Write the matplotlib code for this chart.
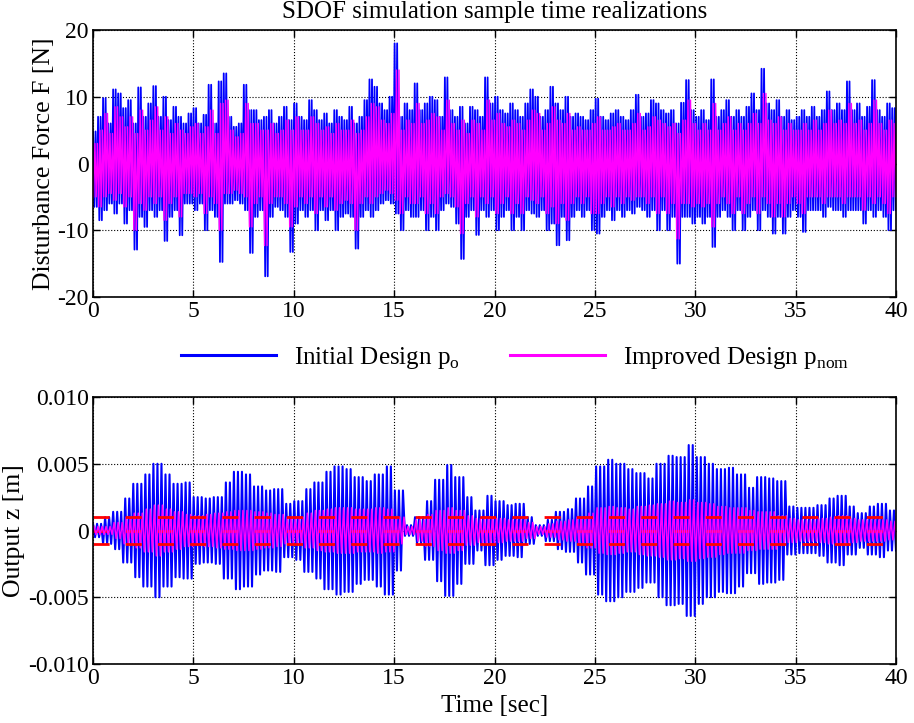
import numpy as np
import matplotlib
matplotlib.use("Agg")
import matplotlib.pyplot as plt

plt.rcParams['font.family'] = ['Liberation Serif', 'DejaVu Serif']
plt.rcParams['mathtext.fontset'] = 'custom'
plt.rcParams['mathtext.rm'] = 'Liberation Serif'
plt.rcParams['axes.unicode_minus'] = False

# ---- disturbance force: local high / low per 0.25 s slot [N] ----
force_init_hi = [4.8, 7, 9.8, 6, 11.1, 10.5, 8.3, 9.5, 6, 11.4, 7, 9, 11.6, 7, 10, 6.5,
                 8.5, 7, 6, 7.5, 8.3, 6, 7.3, 11.8, 6, 12.3, 13.5, 7, 5.5, 6, 11.8, 8,
                 8, 6.5, 7, 8, 6, 7, 8.5, 6.5, 9, 7, 6.5, 9.5, 8, 6.5, 7.5, 6,
                 8, 7, 6.5, 8.5, 6, 7, 9.5, 12.6, 11.5, 9, 8, 10, 18, 7, 9, 8,
                 12, 8, 9, 10, 9.5, 7, 12.9, 8, 7, 8.5, 6, 8.5, 8, 7, 12.9, 9,
                 10, 8, 7.5, 9, 8, 7, 9, 11.1, 10, 7, 8, 11.5, 9, 8, 10, 7,
                 7.5, 7, 6.5, 8, 9.7, 7, 6.5, 7.5, 8, 7, 6.5, 8, 10.3, 7, 7.5, 9.5,
                 9, 8, 7.5, 8, 6, 9.1, 12.5, 8, 7, 8, 6.5, 12.6, 7, 8, 9.5, 7,
                 8, 7, 8.5, 10.5, 8, 14.2, 9, 8, 9.5, 7, 8, 6.5, 7, 8, 7, 8.5,
                 7, 8, 10.8, 8, 9, 8, 12.3, 8, 9, 7, 8.5, 12.5, 8, 7, 9, 8.3]
force_init_lo = [-6.5, -8.5, -7, -6, -7.5, -6, -9, -7, -12.9, -8, -9.5, -7, -8, -7, -11.6, -8,
                 -7, -10.75, -6, -6, -7, -6, -10, -7, -8, -14.75, -6, -6, -5.5, -6, -7, -13.4,
                 -8, -7, -16.9, -8, -6.5, -7, -8, -13.25, -9, -7, -8, -7, -10, -7, -8.5, -7,
                 -10, -8, -7.5, -8, -12.75, -8, -7, -8, -7, -6, -5.5, -6, -7.5, -10, -7, -8,
                 -8, -7, -10, -8, -10, -7, -6, -6.5, -9, -14.3, -8, -7, -10.7, -7, -8, -7,
                 -10, -8, -7, -10, -8, -10, -7, -7.5, -8, -7, -10, -9, -12.25, -8, -11.5, -8,
                 -7, -8, -7, -10, -10.5, -8, -7, -8.5, -7, -8, -7, -7.5, -6.5, -7, -8, -7,
                 -10, -7, -10, -8, -15, -8, -8, -9, -8, -9, -8, -12.5, -8, -7, -8, -10,
                 -7, -10, -8, -7, -10, -7, -8, -10.5, -8, -10.5, -8, -7, -8, -10.25, -7, -7,
                 -7, -8, -6.5, -7, -7, -8, -7, -7, -7, -9, -7, -8, -7, -8, -10, -7]
force_impr_hi = [3, 5, 7.5, 4.5, 8.5, 7, 5.5, 7, 4.5, 8, 5, 6.5, 8.5, 5, 7, 4.5,
                 6, 5, 4.5, 5.5, 6, 4.5, 5.5, 8, 4.5, 9, 9.5, 5, 4, 4.5, 9, 6,
                 6, 5, 5, 6, 4.5, 5, 6.5, 5, 7, 5, 5, 7, 6, 5, 5.5, 4.5,
                 6, 5, 5, 6.5, 4.5, 5, 7, 9, 8.5, 6.5, 6, 7.5, 14, 5, 6.5, 6,
                 9, 6, 6.5, 7.5, 7, 5, 9.5, 6, 5, 6.5, 4.5, 6.5, 6, 5, 9.5, 6.5,
                 7.5, 6, 5.5, 6.5, 6, 5, 6.5, 8, 7.5, 5, 6, 8.5, 6.5, 6, 7.5, 5,
                 5.5, 5, 5, 6, 7, 5, 5, 5.5, 6, 5, 5, 6, 7.5, 5, 5.5, 7,
                 6.5, 6, 5.5, 6, 4.5, 6.5, 9.5, 6, 5, 6, 5, 9, 5, 6, 7, 5,
                 6, 5, 6, 7.5, 6, 10.5, 6.5, 6, 7, 5, 6, 5, 5, 6, 5, 6.5,
                 5, 6, 8, 6, 6.5, 6, 9, 6, 6.5, 5, 6, 9.5, 6, 5, 6.5, 6]
force_impr_lo = [-5, -6.5, -5, -4.5, -5.5, -4.5, -6.5, -5, -10, -6, -7, -5, -6, -5, -8.5, -6,
                 -5, -8, -4.5, -4.5, -5, -4.5, -7.5, -5, -6, -10, -4.5, -4.5, -4, -4.5, -5, -9.5,
                 -6, -5, -12.3, -6, -5, -5, -6, -9.5, -6.5, -5, -6, -5, -7.5, -5, -6.5, -5,
                 -7, -6, -5.5, -6, -10, -6, -5, -6, -5, -4.5, -4, -4.5, -5.5, -7.5, -5, -6,
                 -6, -5, -7.5, -6, -7.5, -5, -4.5, -5, -6.5, -10.5, -6, -5, -8, -5, -6, -5,
                 -7.5, -6, -5, -7.5, -6, -7.5, -5, -5.5, -6, -5, -7.5, -6.5, -9, -6, -8.5, -6,
                 -5, -6, -5, -7.5, -7.5, -6, -5, -6.5, -5, -6, -5, -5.5, -5, -5, -6, -5,
                 -7.5, -5, -7.5, -6, -11.3, -6, -6, -6.5, -6, -6.5, -6, -9.5, -6, -5, -6, -7.5,
                 -5, -7.5, -6, -5, -7.5, -5, -6, -8, -6, -8, -6, -5, -6, -7.5, -5, -5,
                 -5, -6, -5, -5, -5, -6, -5, -5, -5, -7, -5, -6, -5, -6, -7.5, -5]

# ---- output z: oscillation envelope per 0.5 s slot [mm] ----
z_init_env = [0.5, 1.0, 1.4, 2.4, 3.5, 4.2, 5.0, 4.2, 3.5, 3.6,
              2.5, 2.4, 2.5, 3.6, 4.4, 4.2, 3.3, 3.0, 3.1, 2.0,
              2.2, 3.1, 3.6, 4.4, 4.8, 4.6, 4.0, 3.7, 4.2, 4.8,
              3.0, 0.4, 1.0, 2.2, 3.8, 4.9, 4.0, 2.5, 1.5, 2.6,
              2.2, 1.9, 2.0, 1.0, 0.4, 0.8, 1.4, 1.6, 2.4, 3.3,
              4.8, 5.3, 5.0, 4.6, 4.3, 3.9, 5.0, 5.6, 5.5, 6.4,
              5.5, 5.0, 4.6, 4.7, 4.2, 3.2, 4.0, 3.9, 3.7, 1.8,
              1.7, 1.7, 1.9, 2.4, 2.6, 1.8, 1.3, 1.8, 2.0, 1.5]
z_impr_env = [0.3, 0.3, 0.6, 1.0, 1.3, 1.6, 1.9, 1.6, 1.4, 1.2,
              1.1, 1.2, 1.3, 1.4, 1.5, 1.5, 1.4, 1.3, 1.2, 1.0,
              1.0, 1.3, 1.5, 1.6, 1.7, 1.7, 1.6, 1.6, 1.7, 1.6,
              1.0, 0.3, 0.8, 1.2, 1.5, 1.7, 1.5, 1.1, 0.9, 1.0,
              0.9, 0.8, 0.8, 0.6, 0.3, 0.5, 0.7, 0.8, 1.0, 1.3,
              1.7, 1.8, 1.7, 1.6, 1.8, 1.9, 2.0, 2.2, 2.1, 2.3,
              2.1, 2.0, 1.8, 1.7, 1.7, 1.5, 1.4, 1.4, 1.1, 0.9,
              0.8, 0.8, 0.9, 1.0, 1.1, 0.9, 0.8, 0.8, 0.8, 0.7]
z_bound = 0.001

T_END = 40.0


def force_trace(hi, lo, swings=1, lo_first=False):
    a, b = (lo, hi) if lo_first else (hi, lo)
    seq = np.column_stack([a, b] * swings).ravel()
    t = np.linspace(0, T_END, seq.size)
    return t, seq


def z_trace(env_mm, per_slot=5):
    amp = np.repeat(np.asarray(env_mm) * 1e-3, per_slot)
    sign = np.where(np.arange(amp.size) % 2 == 0, 1.0, -1.0)
    t = np.linspace(0, T_END, amp.size)
    return t, amp * sign


fig = plt.figure(figsize=(9.14, 7.23), dpi=100)
ax1 = fig.add_axes([0.1018, 0.5892, 0.8785, 0.3693])
ax2 = fig.add_axes([0.1018, 0.0816, 0.8785, 0.3693])

BLUE, MAG, RED = (0, 0, 1), (1, 0, 1), (1, 0, 0)
DASH = (0, (5.8, 5.8))

# top: disturbance force
t, f = force_trace(force_init_hi, force_init_lo, swings=2)
ax1.plot(t, f, color=BLUE, lw=1.3)
t, f = force_trace(force_impr_hi, force_impr_lo, swings=2, lo_first=True)
ax1.plot(t + 0.03, f, color=MAG, lw=1.0)

# bottom: output displacement with the +/- bound and zero line
t, z = z_trace(z_init_env)
h_init, = ax2.plot(t, z, color=BLUE, lw=1.5, label=r'Initial Design p$_{\mathrm{o}}$')
ax2.plot([0, T_END], [0, 0], color=RED, lw=2, linestyle=DASH)
t, z = z_trace(z_impr_env)
h_impr, = ax2.plot(t + 0.05, z, color=MAG, lw=1.1, label=r'Improved Design p$_{\mathrm{nom}}$')
for lvl in (z_bound, -z_bound):
    ax2.plot([0, T_END], [lvl, lvl], color=RED, lw=2, linestyle=DASH)

FS = 17
ax1.set_ylim(-20, 20)
ax1.set_yticks([-20, -10, 0, 10, 20])
ax1.set_ylabel('Disturbance Force F [N]', fontsize=18.5, labelpad=2)
ax1.set_title('SDOF simulation sample time realizations', fontsize=18, pad=9)

ax2.set_ylim(-0.01, 0.01)
ax2.set_yticks([-0.01, -0.005, 0, 0.005, 0.01])
ax2.set_yticklabels(['-0.010', '-0.005', '0', '0.005', '0.010'])
ax2.set_ylabel('Output z [m]', fontsize=18.5, labelpad=2)
ax2.set_xlabel('Time [sec]', fontsize=18, labelpad=4)

for ax in (ax1, ax2):
    ax.set_xlim(0, T_END)
    ax.set_xticks(np.arange(0, 41, 5))
    ax.grid(True, color='k', linestyle=':', linewidth=0.8)
    ax.tick_params(direction='in', length=5, width=1.0, top=True, right=True,
                   labelsize=FS, pad=3)
    for s in ax.spines.values():
        s.set_linewidth(1.2)

leg = fig.legend(handles=[h_init, h_impr], loc='center', ncol=2, frameon=False,
                 bbox_to_anchor=(515 / 914, 1 - 358 / 723), fontsize=18,
                 handlelength=3.8, handletextpad=0.72, columnspacing=2.0)
for ln in leg.get_lines():
    ln.set_linewidth(2.2)

fig.savefig('out.png', dpi=100)
